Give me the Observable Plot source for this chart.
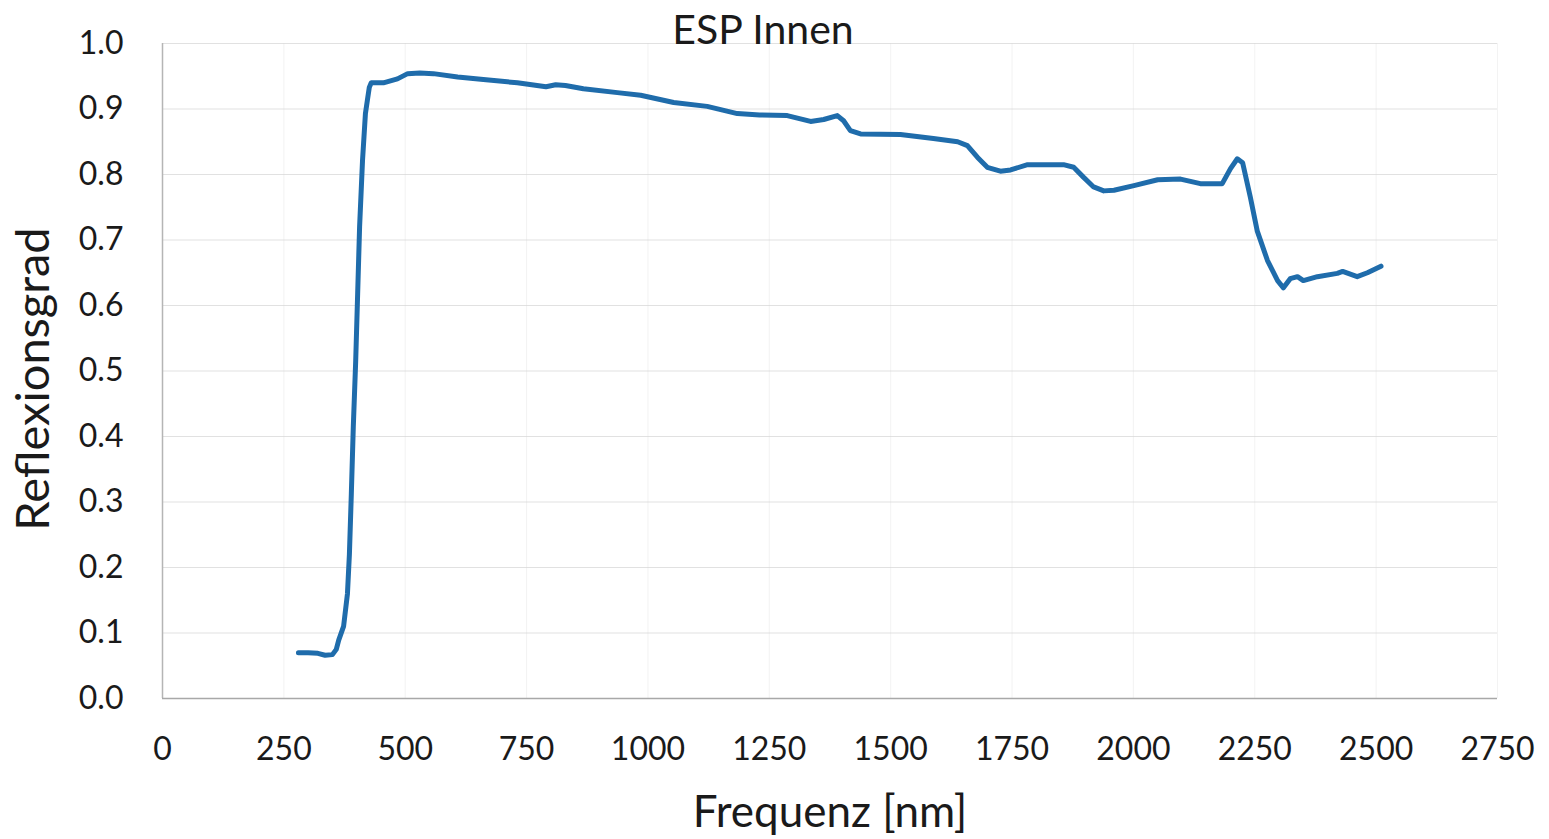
<!DOCTYPE html>
<html>
<head>
<meta charset="utf-8">
<script src="https://cdn.jsdelivr.net/npm/d3@7"></script>
<script src="https://cdn.jsdelivr.net/npm/@observablehq/plot@0.6"></script>
<style>
  html, body { margin: 0; padding: 0; background: #fff; }
  #chart { width: 1549px; height: 839px; }
</style>
</head>
<body>
<div id="chart"></div>
<script>
const title = "ESP Innen";
const xLabel = "Frequenz [nm]";
const yLabel = "Reflexionsgrad";
const xTicks = [0, 250, 500, 750, 1000, 1250, 1500, 1750, 2000, 2250, 2500, 2750];
const yTicks = [0, 0.1, 0.2, 0.3, 0.4, 0.5, 0.6, 0.7, 0.8, 0.9, 1.0];

const wavelength = [280, 300, 320, 335, 350, 358, 363, 373, 381, 385, 389, 393, 398, 402, 406, 412, 418, 422, 426, 430, 455, 484, 505, 530, 558, 608, 661, 731, 790, 810, 830, 867, 937, 985, 1053, 1122, 1184, 1230, 1287, 1335, 1362, 1390, 1403, 1417, 1438, 1520, 1588, 1638, 1658, 1679, 1699, 1726, 1747, 1782, 1856, 1877, 1897, 1918, 1939, 1960, 2001, 2050, 2097, 2138, 2183, 2200, 2214, 2225, 2241, 2255, 2276, 2297, 2309, 2323, 2338, 2350, 2379, 2420, 2431, 2461, 2482, 2510];
const reflectance = [0.070, 0.070, 0.069, 0.066, 0.067, 0.075, 0.089, 0.11, 0.16, 0.22, 0.313, 0.414, 0.516, 0.618, 0.72, 0.821, 0.893, 0.913, 0.933, 0.940, 0.940, 0.946, 0.954, 0.955, 0.954, 0.949, 0.945, 0.940, 0.934, 0.937, 0.936, 0.931, 0.925, 0.921, 0.910, 0.904, 0.893, 0.891, 0.890, 0.881, 0.884, 0.890, 0.882, 0.867, 0.862, 0.861, 0.855, 0.850, 0.844, 0.826, 0.811, 0.805, 0.807, 0.815, 0.815, 0.811, 0.796, 0.781, 0.775, 0.776, 0.783, 0.792, 0.793, 0.786, 0.786, 0.809, 0.824, 0.818, 0.765, 0.714, 0.669, 0.638, 0.627, 0.641, 0.644, 0.638, 0.644, 0.649, 0.652, 0.644, 0.650, 0.660];

const data = wavelength.map((w, i) => ({w, r: reflectance[i]}));

const chart = Plot.plot({
  width: 1549,
  height: 839,
  marginLeft: 162,
  marginRight: 52,
  marginTop: 43,
  marginBottom: 141,
  style: {fontFamily: "Lato, 'Open Sans', sans-serif", fontSize: "32px", color: "#1a1a1a", background: "#fff"},
  x: {domain: [0, 2750]},
  y: {domain: [0, 1]},
  marks: [
    Plot.gridX(xTicks, {stroke: "#d0d0d0", strokeOpacity: 0.25}),
    Plot.gridY(yTicks, {stroke: "#d4d4d4", strokeOpacity: 0.7}),
    Plot.ruleX([0], {stroke: "#b5b5b5", strokeWidth: 1.5}),
    Plot.ruleY([0], {stroke: "#a8a8a8", strokeWidth: 1.5}),
    Plot.axisY({ticks: yTicks, tickFormat: d3.format(".1f"), tickSize: 0, tickPadding: 39, label: null, fontSize: 32}),
    Plot.axisX({ticks: xTicks, tickFormat: d => String(d), tickSize: 0, tickPadding: 39, label: null, fontSize: 32}),
    Plot.line(data, {x: "w", y: "r", stroke: "#1f6cab", strokeWidth: 5, strokeLinejoin: "round"}),
    Plot.text([title], {frameAnchor: "top", dx: -67, dy: -29, fontSize: 41, fill: "#1a1a1a"}),
    Plot.text([xLabel], {frameAnchor: "bottom", dy: 128, fontSize: 44, fill: "#1a1a1a"}),
    Plot.text([yLabel], {frameAnchor: "left", textAnchor: "middle", dx: -129, dy: 8, rotate: -90, fontSize: 47, fill: "#1a1a1a"})
  ]
});
document.getElementById("chart").appendChild(chart);
</script>
</body>
</html>
